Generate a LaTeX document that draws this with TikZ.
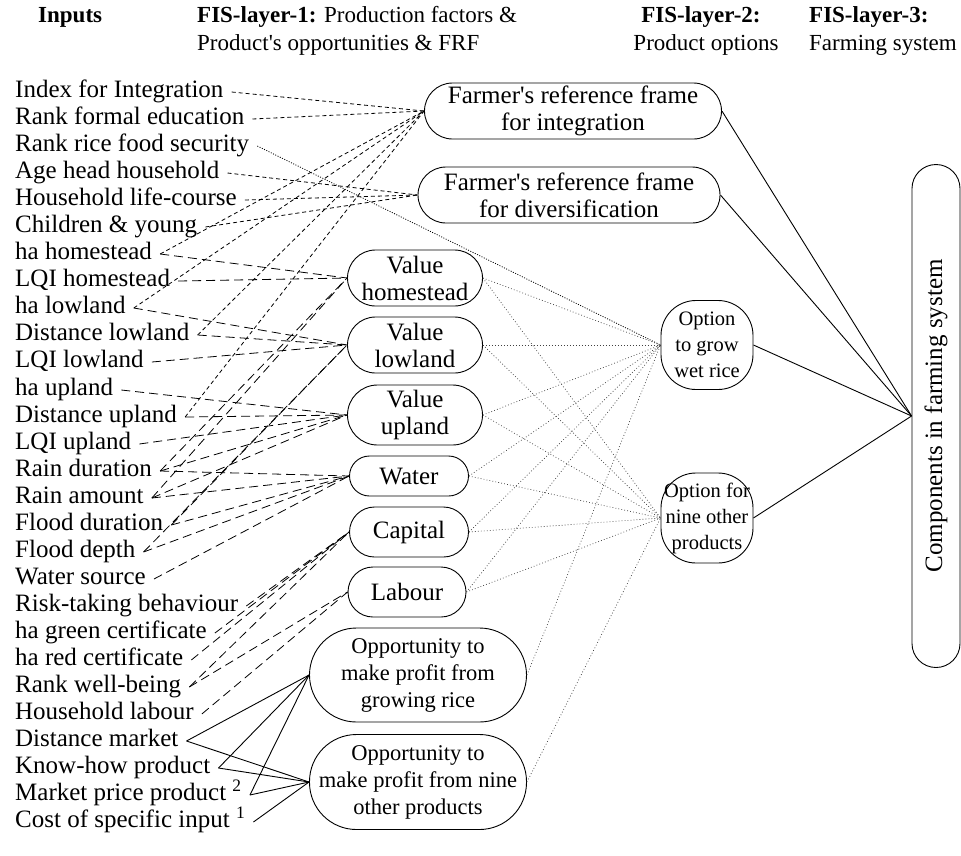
\documentclass[tikz,border=0pt]{standalone}
\usepackage{fontspec}
\newfontfamily\figfont{Liberation Serif}
\begin{document}
\begin{tikzpicture}[x=1pt,y=-1pt,
  txt/.style={font=\figfont\fontsize{23}{27}\selectfont,inner sep=3pt},
  inp/.style={font=\figfont\fontsize{25}{27}\selectfont,anchor=west,inner ysep=2pt,inner xsep=8pt,text height=17pt,text depth=6pt},
  box/.style={draw,line width=0.9pt,font=\figfont\fontsize{25}{27}\selectfont,align=center,inner sep=0pt},
  frf/.style={line width=0.8pt,dash pattern=on 4pt off 3pt},
  val/.style={line width=0.8pt,dash pattern=on 9pt off 5pt},
  opt/.style={line width=0.7pt,dash pattern=on 0.8pt off 2.2pt,black!75},
  sec/.style={line width=0.8pt,dash pattern=on 1pt off 1.5pt},
  sol/.style={line width=0.9pt}]
\useasboundingbox (0,0) rectangle (961,855);
\node[txt,anchor=west] (h0) at (35,17) {\textbf{Inputs}};
\node[txt,anchor=west] (h1) at (194,17) {\textbf{FIS-layer-1:} Production factors \&};
\node[txt,anchor=west] (h1b) at (194,45) {Product's opportunities \& FRF};
\node[txt] (h2) at (701,17) {\textbf{FIS-layer-2:}};
\node[txt] (h2b) at (706,45) {Product options};
\node[txt,anchor=west] (h3) at (806,17) {\textbf{FIS-layer-3:}};
\node[txt,anchor=west] (h3b) at (806,45) {Farming system};
\node[inp] (1) at (7,92) {Index for Integration};
\node[inp] (2) at (7,119) {Rank formal education};
\node[inp] (3) at (7,146) {Rank rice food security};
\node[inp] (4) at (7,173) {Age head household};
\node[inp] (5) at (7,200) {Household life-course};
\node[inp] (6) at (7,227) {Children \& young};
\node[inp] (7) at (7,254) {ha homestead};
\node[inp] (8) at (7,281) {LQI homestead};
\node[inp] (9) at (7,308) {ha lowland};
\node[inp] (10) at (7,335) {Distance lowland};
\node[inp] (11) at (7,362) {LQI lowland};
\node[inp] (12) at (7,390) {ha upland};
\node[inp] (13) at (7,417) {Distance upland};
\node[inp] (14) at (7,444) {LQI upland};
\node[inp] (15) at (7,471) {Rain duration};
\node[inp] (16) at (7,498) {Rain amount};
\node[inp] (17) at (7,525) {Flood duration};
\node[inp] (18) at (7,552) {Flood depth};
\node[inp] (19) at (7,579) {Water source};
\node[inp] (20) at (7,606) {Risk-taking behaviour};
\node[inp] (21) at (7,633) {ha green certificate};
\node[inp] (22) at (7,660) {ha red certificate};
\node[inp] (23) at (7,687) {Rank well-being};
\node[inp] (24) at (7,714) {Household labour};
\node[inp] (25) at (7,741) {Distance market};
\node[inp] (26) at (7,768) {Know-how product};
\node[inp] (27) at (7,795) {Market price product \textsuperscript{2}};
\node[inp] (28) at (7,822) {Cost of specific input \textsuperscript{1}};
\node[box,rounded corners=28pt,minimum width=297pt,minimum height=56pt] (31) at (573,111) {Farmer's reference frame\\for integration};
\node[box,rounded corners=28pt,minimum width=302pt,minimum height=56pt] (32) at (569,195) {Farmer's reference frame\\for diversification};
\node[box,rounded corners=28pt,minimum width=135pt,minimum height=56pt] (33) at (415,278) {Value\\homestead};
\node[box,rounded corners=28pt,minimum width=135pt,minimum height=56pt] (34) at (415,345) {Value\\lowland};
\node[box,rounded corners=30pt,minimum width=135pt,minimum height=60pt] (35) at (415,415) {Value\\upland};
\node[box,rounded corners=20pt,minimum width=119pt,minimum height=40pt] (36) at (409,476) {Water};
\node[box,rounded corners=25pt,minimum width=119pt,minimum height=50pt] (37) at (409,532) {Capital};
\node[box,rounded corners=25pt,minimum width=118pt,minimum height=50pt] (38) at (407,592) {Labour};
\node[box,rounded corners=47pt,minimum width=217pt,minimum height=94pt,font=\figfont\fontsize{22.5}{27}\selectfont] (39) at (418,675) {Opportunity to\\make profit from\\growing rice};
\node[box,rounded corners=47pt,minimum width=217pt,minimum height=95pt,font=\figfont\fontsize{22.5}{27}\selectfont] (40) at (418,782) {Opportunity to\\make profit from nine\\other products};
\node[box,rounded corners=35pt,minimum width=92pt,minimum height=89pt,font=\figfont\fontsize{20.5}{26}\selectfont] (41) at (707,345) {Option\\to grow\\wet rice};
\node[box,rounded corners=35pt,minimum width=92pt,minimum height=90pt,font=\figfont\fontsize{20.5}{26}\selectfont] (42) at (707,518) {Option for\\nine other\\products};
\node[box,rounded corners=24pt,minimum width=48pt,minimum height=503pt] (50) at (936,416) {\rotatebox{90}{Components in farming system}};
\path[draw,frf] (1.east) -- (31.west);
\path[draw,frf] (2.east) -- (31.west);
\path[draw,sec] (3.east) -- (41.west);
\path[draw,frf] (4.east) -- (32.west);
\path[draw,frf] (5.east) -- (32.west);
\path[draw,frf] (6.east) -- (32.west);
\path[draw,frf] (7.east) -- (31.west);
\path[draw,val] (7.east) -- (33.west);
\path[draw,val] (8.east) -- (33.west);
\path[draw,frf] (9.east) -- (31.west);
\path[draw,val] (9.east) -- (34.west);
\path[draw,frf] (10.east) -- (31.west);
\path[draw,val] (10.east) -- (34.west);
\path[draw,val] (11.east) -- (34.west);
\path[draw,val] (12.east) -- (35.west);
\path[draw,frf] (13.east) -- (31.west);
\path[draw,val] (13.east) -- (35.west);
\path[draw,val] (14.east) -- (35.west);
\path[draw,val] (15.east) -- (36.west);
\path[draw,val] (15.east) -- (35.west);
\path[draw,val] (15.east) -- (33.west);
\path[draw,val] (16.east) -- (36.west);
\path[draw,val] (16.east) -- (35.west);
\path[draw,val] (16.east) -- (33.west);
\path[draw,val] (17.east) -- (36.west);
\path[draw,val] (17.east) -- (34.west);
\path[draw,val] (18.east) -- (36.west);
\path[draw,val] (18.east) -- (34.west);
\path[draw,val] (19.east) -- (36.west);
\path[draw,val] (20.east) -- (37.west);
\path[draw,val] (21.east) -- (37.west);
\path[draw,val] (22.east) -- (37.west);
\path[draw,val] (23.east) -- (37.west);
\path[draw,val] (23.east) -- (38.west);
\path[draw,val] (24.east) -- (38.west);
\path[draw,sol] (25.east) -- (39.west);
\path[draw,sol] (25.east) -- (40.west);
\path[draw,sol] (26.east) -- (39.west);
\path[draw,sol] (26.east) -- (40.west);
\path[draw,sol] (27.east) -- (39.west);
\path[draw,sol] (27.east) -- (40.west);
\path[draw,sol] (28.east) -- (40.west);
\path[draw,opt] (33.east) -- (41.west);
\path[draw,opt] (33.east) -- (42.west);
\path[draw,opt] (34.east) -- (41.west);
\path[draw,opt] (34.east) -- (42.west);
\path[draw,opt] (35.east) -- (41.west);
\path[draw,opt] (35.east) -- (42.west);
\path[draw,opt] (36.east) -- (41.west);
\path[draw,opt] (36.east) -- (42.west);
\path[draw,opt] (37.east) -- (41.west);
\path[draw,opt] (37.east) -- (42.west);
\path[draw,opt] (38.east) -- (41.west);
\path[draw,opt] (38.east) -- (42.west);
\path[draw,opt] (39.east) -- (41.west);
\path[draw,opt] (40.east) -- (42.west);
\path[draw,sol] (31.east) -- (50.west);
\path[draw,sol] (32.east) -- (50.west);
\path[draw,sol] (41.east) -- (50.west);
\path[draw,sol] (42.east) -- (50.west);
\end{tikzpicture}
\end{document}
